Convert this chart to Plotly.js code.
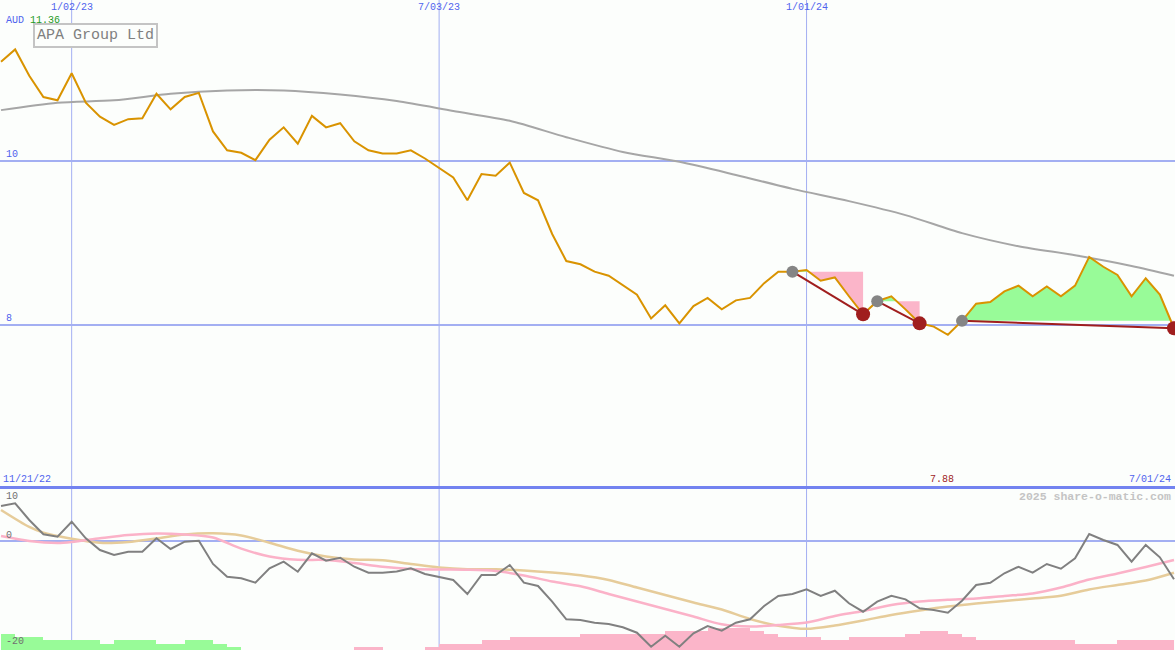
<!DOCTYPE html>
<html><head><meta charset="utf-8">
<script src="https://cdn.plot.ly/plotly-3.0.1.min.js"></script>
<style>html,body{margin:0;padding:0;background:#fcfefc;overflow:hidden}#chart{width:1175px;height:650px}</style>
</head><body><div id="chart"></div>
<script>
// ---------- data ----------
const startDate = '2022-11-28';   // first weekly close
const price = [11.21,11.36,11.04,10.78,10.74,11.07,10.71,10.54,10.44,10.51,
 10.52,10.82,10.63,10.78,10.83,10.36,10.13,10.10,10.01,10.26,
 10.41,10.21,10.55,10.41,10.46,10.24,10.13,10.09,10.09,10.13,
 10.03,9.92,9.80,9.52,9.84,9.82,9.98,9.61,9.52,9.11,
 8.78,8.74,8.65,8.60,8.48,8.37,8.08,8.24,8.02,8.23,
 8.33,8.19,8.30,8.33,8.51,8.65,8.65,8.67,8.54,8.58,
 8.35,8.13,8.29,8.35,8.19,8.02,7.98,7.88,8.05,8.26,
 8.28,8.41,8.48,8.35,8.47,8.35,8.48,8.83,8.71,8.61,
 8.35,8.57,8.37,7.96];
const longMaWeeks = [0,4,8,12,16,20,24,28,32,36,40,44,48,52,56,60,64,68,72,76,80,83];
const longMa = [10.62,10.71,10.74,10.82,10.86,10.86,10.81,10.73,10.61,10.49,10.29,10.11,9.99,9.83,9.66,9.51,9.34,9.12,8.96,8.85,8.72,8.60];
const momentum = [6.52,7.02,3.91,1.25,0.80,3.59,0.50,-1.68,-2.61,-1.99,
 -1.99,0.50,-1.49,-0.13,0.06,-4.28,-6.65,-6.95,-7.77,-5.08,
 -3.85,-5.72,-2.29,-3.67,-3.11,-4.79,-5.90,-5.90,-5.68,-5.08,
 -6.15,-6.76,-7.26,-9.87,-6.33,-6.33,-4.47,-7.77,-8.38,-11.30,
 -14.58,-14.71,-15.21,-15.46,-16.07,-17.08,-19.68,-17.64,-19.68,-17.19,
 -15.83,-16.70,-15.21,-14.58,-12.10,-10.24,-9.87,-8.99,-10.24,-9.26,
 -11.60,-13.17,-11.30,-10.19,-10.86,-12.53,-12.85,-13.35,-11.12,-8.19,
 -7.77,-6.01,-4.79,-5.90,-4.28,-5.16,-3.22,1.30,0.19,-0.74,
 -3.85,-0.74,-3.04,-7.13];
const pinkMaWeeks = [0,2,4,5,7,9,11,13,15,17,19,21,23,25,27,29,31,33,35,37,39,41,43,45,47,49,51,53,55,57,59,61,63,65,67,69,71,73,75,77,79,81,83];
const pinkMa = [0.93,0.0,-0.37,-0.19,0.50,1.12,1.40,1.21,0.65,-1.43,-2.89,-3.50,-3.54,-4.10,-4.80,-5.21,-5.31,-5.36,-5.59,-6.42,-7.54,-8.44,-9.87,-11.27,-12.66,-14.06,-15.51,-15.92,-15.64,-15.18,-13.97,-13.04,-11.92,-11.27,-10.95,-10.71,-10.24,-9.78,-8.66,-7.17,-6.05,-4.84,-3.54];
const tanMaWeeks = [0,2,3,5,7,9,11,13,15,17,19,21,23,25,27,29,31,33,35,37,39,41,43,45,47,49,51,53,55,57,59,61,63,65,67,69,71,73,75,77,79,81,83];
const tanMa = [5.77,2.61,1.55,0.41,-0.34,-0.19,0.47,1.21,1.43,1.02,-0.32,-1.82,-2.89,-3.45,-3.59,-4.28,-4.93,-5.25,-5.27,-5.49,-5.87,-6.39,-7.26,-8.66,-10.06,-11.45,-12.76,-14.53,-15.77,-16.35,-15.74,-14.80,-13.78,-12.94,-12.20,-11.64,-11.17,-10.71,-10.20,-9.03,-8.19,-7.36,-5.90];
// weekly histogram (positive = green, negative = pink), in steps
const histSteps = [5,4,4,3,3,3,3,2,3,3,3,2,2,3,3,2,1,
 0,0,0,0,0,0,0,0,-1,-1,0,0,0,-1,-2,-2,-2,-3,-3,
 -4,-4,-4,-4,-4,-5,-5,-5,-5,-5,-5,-6,-6,-6,-7,-7,-7,-6,-5,
 -4,-4,-4,-3,-3,-4,-4,-4,-4,-5,-6,-6,-5,-4,
 -3,-3,-3,-3,-3,-3,-3,-2,-2,-2,-3,-3,-3,-3];
const peakWeeks = [56,62,68];
const troughWeeks = [61,65,83];
const gridDates = ['2023-01-02','2023-07-03','2024-01-01'];
const gridLabels = ['1/02/23','7/03/23','1/01/24'];
const startLabel = '11/21/22';
const endLabel = '7/01/24';
const currency = 'AUD';
const companyName = 'APA Group Ltd';
const credit = '2025 share-o-matic.com';
const priceGrid = [8,10];
const priceGridLabels = ['8','10'];
const oscLabels = ['10','0','-20'];

// ---------- helpers ----------
const DAY = 86400000;
const t0 = Date.parse(startDate + 'T00:00:00Z');
function fmt(ms){ return new Date(ms).toISOString().replace('T',' ').replace('Z',''); }
function wk(k){ return t0 + k*7*DAY; }
const dates = price.map((_,k)=>fmt(wk(k)));

const traces = [];
// histogram bars (bottom panel, y2)
traces.push({type:'bar', x: histSteps.map((_,k)=>fmt(wk(k))), y: histSteps.map(v=>Math.abs(v)),
  width: 7*DAY, offset: 0, xaxis:'x', yaxis:'y2',
  marker:{color: histSteps.map(v=> v>0 ? '#98fb98' : '#fbb5c9'), line:{width:0}}, hoverinfo:'skip'});

// fills between price and the level at each peak
function fillPolys(a,b){
  const L = price[a];
  const pts=[];
  for(let k=a;k<=b;k++){
    pts.push([wk(k),price[k]]);
    if(k<b && (price[k]-L)*(price[k+1]-L)<0){
      const f=(L-price[k])/(price[k+1]-price[k]);
      pts.push([wk(k)+f*7*DAY, L]);
    }
  }
  const xs = pts.map(p=>fmt(p[0]));
  const back = xs.slice().reverse();
  const up = pts.map(p=>Math.max(p[1],L));
  const dn = pts.map(p=>Math.min(p[1],L));
  const lv = pts.map(()=>L);
  traces.push({type:'scatter',mode:'lines',x:xs.concat(back),y:up.concat(lv),fill:'toself',
    fillcolor:'#98fb98',line:{width:0},xaxis:'x',yaxis:'y',hoverinfo:'skip'});
  traces.push({type:'scatter',mode:'lines',x:xs.concat(back),y:dn.concat(lv),fill:'toself',
    fillcolor:'#fbb5c9',line:{width:0},xaxis:'x',yaxis:'y',hoverinfo:'skip'});
}
peakWeeks.forEach((p,i)=>fillPolys(p,troughWeeks[i]));

// long moving average
traces.push({type:'scatter',mode:'lines',x:longMaWeeks.map(k=>fmt(wk(k))),y:longMa,
  line:{color:'#a6a6a6',width:2,shape:'spline',smoothing:0.8},xaxis:'x',yaxis:'y',hoverinfo:'skip'});
// price
traces.push({type:'scatter',mode:'lines',x:dates,y:price,line:{color:'#d99300',width:2},xaxis:'x',yaxis:'y',hoverinfo:'skip'});
// trend lines peak->trough
peakWeeks.forEach((p,i)=>{
  const q=troughWeeks[i];
  traces.push({type:'scatter',mode:'lines',x:[dates[p],dates[q]],y:[price[p],price[q]],
    line:{color:'#a01e1e',width:2},xaxis:'x',yaxis:'y',hoverinfo:'skip'});
});
traces.push({type:'scatter',mode:'markers',x:peakWeeks.map(k=>dates[k]),y:peakWeeks.map(k=>price[k]),
  marker:{color:'#858585',size:12},xaxis:'x',yaxis:'y',hoverinfo:'skip'});
traces.push({type:'scatter',mode:'markers',x:troughWeeks.map(k=>dates[k]),y:troughWeeks.map(k=>price[k]),
  marker:{color:'#a01e1e',size:14},xaxis:'x',yaxis:'y',hoverinfo:'skip'});

// oscillator panel lines (y3)
traces.push({type:'scatter',mode:'lines',x:tanMaWeeks.map(k=>fmt(wk(k))),y:tanMa,
  line:{color:'#e6cc9a',width:2.5,shape:'spline',smoothing:0.8},xaxis:'x',yaxis:'y3',hoverinfo:'skip'});
traces.push({type:'scatter',mode:'lines',x:pinkMaWeeks.map(k=>fmt(wk(k))),y:pinkMa,
  line:{color:'#fbb2c8',width:2.5,shape:'spline',smoothing:0.8},xaxis:'x',yaxis:'y3',hoverinfo:'skip'});
traces.push({type:'scatter',mode:'lines',x:dates,y:momentum,line:{color:'#808080',width:2},xaxis:'x',yaxis:'y3',hoverinfo:'skip'});

// ---------- layout ----------
const gridBlue = '#a3aff2';
const labelBlue = '#4f63ee';
const mono = 'Liberation Mono, DejaVu Sans Mono, monospace';
const shapes = [];
gridDates.forEach(d=>shapes.push({type:'line',xref:'x',yref:'paper',x0:d,x1:d,y0:0,y1:1,layer:'below',line:{color:gridBlue,width:1}}));
priceGrid.forEach(v=>shapes.push({type:'line',xref:'paper',yref:'y',x0:0,x1:1,y0:v,y1:v,layer:'below',line:{color:gridBlue,width:2}}));
shapes.push({type:'line',xref:'paper',yref:'y3',x0:0,x1:1,y0:0,y1:0,layer:'below',line:{color:gridBlue,width:2}});
shapes.push({type:'line',xref:'paper',yref:'paper',x0:0,x1:1,y0:1-487.5/650,y1:1-487.5/650,layer:'above',line:{color:'#7383f0',width:3}});

const ann = [];
gridDates.forEach((d,i)=>ann.push({xref:'x',yref:'paper',x:d,y:1,yanchor:'top',xanchor:'center',showarrow:false,
  text:gridLabels[i],font:{family:mono,size:10,color:labelBlue}}));
const pmax = Math.max(...price), pmin = Math.min(...price);
ann.push({xref:'paper',yref:'paper',x:0.003,y:1-20/650,xanchor:'left',yanchor:'middle',showarrow:false,
  text:currency+' <span style="color:#1e9a1e">'+pmax.toFixed(2)+'</span>',font:{family:mono,size:10,color:labelBlue}});
ann.push({xref:'paper',yref:'paper',x:33/1175,y:1-36/650,xanchor:'left',yanchor:'middle',showarrow:false,
  text:companyName,font:{family:mono,size:15,color:'#808080'},bordercolor:'#c4c4c4',borderwidth:2,borderpad:2,bgcolor:'#fcfefc'});
priceGrid.forEach((v,i)=>ann.push({xref:'paper',yref:'y',x:0.003,y:v,xanchor:'left',yanchor:'bottom',yshift:-1,showarrow:false,
  text:priceGridLabels[i],font:{family:mono,size:10,color:labelBlue}}));
ann.push({xref:'paper',yref:'paper',x:0.001,y:1-479/650,xanchor:'left',yanchor:'middle',showarrow:false,
  text:startLabel,font:{family:mono,size:10,color:labelBlue}});
ann.push({xref:'paper',yref:'paper',x:0.998,y:1-479/650,xanchor:'right',yanchor:'middle',showarrow:false,
  text:endLabel,font:{family:mono,size:10,color:labelBlue}});
ann.push({xref:'x',yref:'paper',x:dates[price.indexOf(pmin)],xshift:-6,y:1-479/650,xanchor:'center',yanchor:'middle',showarrow:false,
  text:pmin.toFixed(2),font:{family:mono,size:10,color:'#a01e1e'}});
ann.push({xref:'paper',yref:'paper',x:0.998,y:1-496/650,xanchor:'right',yanchor:'middle',showarrow:false,
  text:'<b>'+credit+'</b>',font:{family:mono,size:11.5,color:'#c4c4c4'}});
const oscY=[496,535,641];
oscLabels.forEach((s,i)=>ann.push({xref:'paper',yref:'paper',x:0.003,y:1-oscY[i]/650,xanchor:'left',yanchor:'middle',showarrow:false,
  text:s,font:{family:mono,size:10,color:'#707070'}}));

const layout = {
  width:1175,height:650,margin:{l:0,r:0,t:0,b:0,pad:0},
  paper_bgcolor:'#fcfefc',plot_bgcolor:'#fcfefc',showlegend:false,
  bargap:0,
  xaxis:{type:'date',range:['2022-11-27 12:00','2024-07-01 12:00'],showgrid:false,showticklabels:false,zeroline:false,showline:false,ticks:'',anchor:'y2'},
  yaxis:{domain:[1-487/650,1],range:[6.024,11.963],showgrid:false,showticklabels:false,zeroline:false,ticks:''},
  yaxis2:{domain:[0,1-488/650],range:[0,50.6],showgrid:false,showticklabels:false,zeroline:false,ticks:''},
  yaxis3:{overlaying:'y2',range:[-20.3,9.87],showgrid:false,showticklabels:false,zeroline:false,ticks:''},
  shapes:shapes,annotations:ann
};
Plotly.newPlot('chart',traces,layout,{staticPlot:true,displayModeBar:false});
</script></body></html>
